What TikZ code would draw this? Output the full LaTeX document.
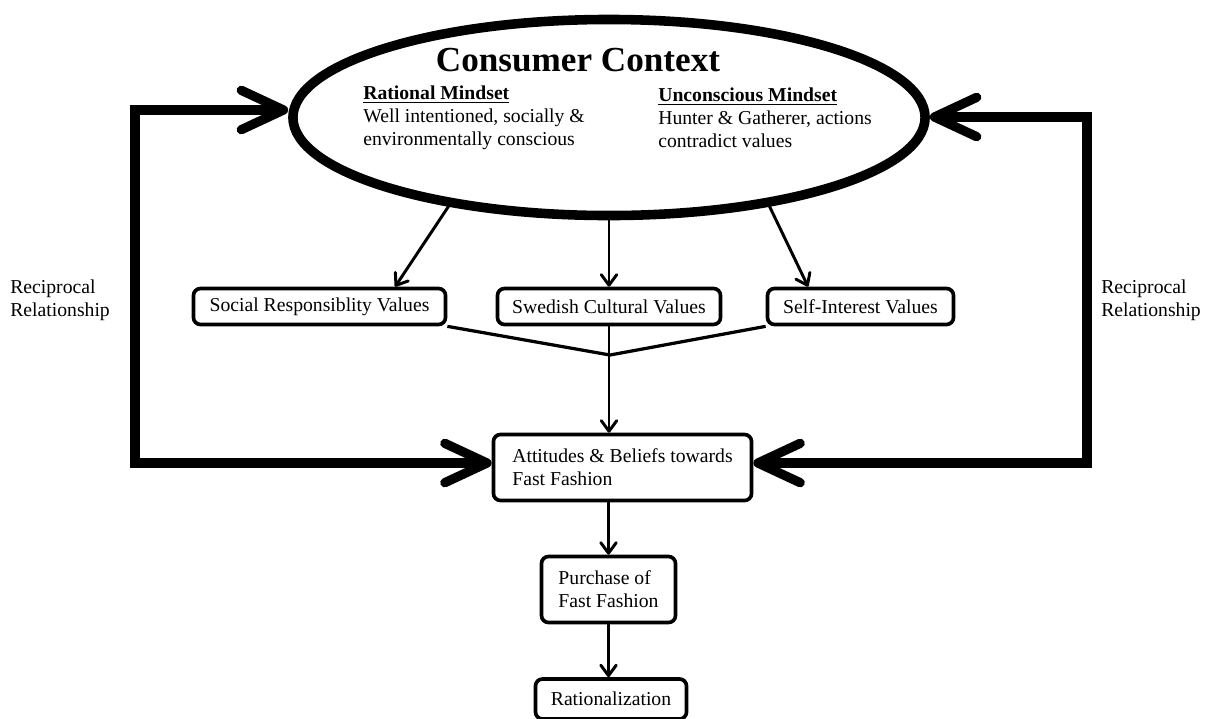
\documentclass[tikz,border=0pt]{standalone}
\usepackage{fontspec}
\setmainfont{Liberation Serif}
\usetikzlibrary{shapes.geometric,arrows.meta}

\begin{document}
\begin{tikzpicture}[x=0.025cm,y=-0.025cm,
	every node/.style={font=\fontsize{14}{16.4}\selectfont},
	valuebox/.style={draw, line width=2.6pt, rounded corners=5pt, align=left},
	smallarrow/.style={line width=2.1pt, -{Straight Barb[length=7.5pt,width=11pt,round]}},
	joinline/.style={line width=2.3pt},
	loopline/.style={line width=6.6pt, {Straight Barb[length=30pt,width=28pt,round]}-{Straight Barb[length=30pt,width=28pt,round]}}]
			\newcommand{\mytitlefont}[1]{
				\fontsize{25}{28}\selectfont\bfseries{#1}
			}%Frame of the picture
			\useasboundingbox (0,0) rectangle (1208,718);
			%The consumer context ellipse
			\node [draw, ellipse, line width=6.8pt, minimum width=15.8cm, minimum height=4.9cm] (ctx) at (609,117.5) {};
			\node [] (ttl) at (578,60) {\mytitlefont{Consumer Context}};
			\node [anchor=west, align=left, inner sep=0pt] (rational) at (363,118) {\underline{\textbf{Rational Mindset}}\\Well intentioned, socially \&\\environmentally conscious};
			\node [anchor=west, align=left, inner sep=0pt] (unconscious) at (658,118) {\underline{\textbf{Unconscious Mindset}}\\Hunter \& Gatherer, actions\\contradict values};
			%The three kinds of values
			\node [valuebox, minimum width=6.3cm, minimum height=0.9cm] (social) at (319.5,306.5) {Social Responsiblity Values};
			\node [valuebox, minimum width=5.575cm, minimum height=0.9cm] (swedish) at (609,306.5) {Swedish Cultural Values};
			\node [valuebox, minimum width=4.65cm, minimum height=0.9cm] (self) at (860.5,306.5) {Self-Interest Values};
			%Chain at the bottom
			\node [valuebox, minimum width=6.45cm, minimum height=1.65cm] (attitudes) at (622.5,467.5) {Attitudes \& Beliefs towards\\Fast Fashion};
			\node [valuebox, minimum width=3.35cm, minimum height=1.65cm] (purchase) at (608.5,589.5) {Purchase of\\Fast Fashion};
			\node [valuebox, minimum width=3.775cm, minimum height=1cm] (ration) at (611,699) {Rationalization};
			%Side labels
			\node [anchor=west, align=left, inner sep=0pt] (recleft) at (10,300) {Reciprocal\\Relationship};
			\node [anchor=west, align=left, inner sep=0pt] (recright) at (1101,300) {Reciprocal\\Relationship};
			%Arrows from the ellipse down to the values
			\draw [smallarrow] (ctx.209) -- ([xshift=1.89cm]social.north);
			\draw [smallarrow] (ctx.south) -- (swedish.north);
			\draw [smallarrow] (ctx.331) -- ([xshift=-1.31cm]self.north);
			%Values join into one arrow
			\coordinate (merge) at (610,355);
			\draw [joinline] (social.south east) -- (merge) -- (self.south west);
			\draw [smallarrow] (swedish.south) -- (swedish.south |- attitudes.north);
			\draw [smallarrow] (purchase.north |- attitudes.south) -- (purchase.north);
			\draw [smallarrow] (purchase.south) -- (purchase.south |- ration.north);
			%Reciprocal loops left and right
			\coordinate (lefttop) at (135,110);
			\coordinate (leftbot) at (135,463);
			\coordinate (righttop) at (1087,117);
			\coordinate (rightbot) at (1087,463);
			\draw [loopline] (ctx.west |- lefttop) -- (lefttop) -- (leftbot) -- (attitudes.west |- leftbot);
			\draw [loopline] (ctx.east |- righttop) -- (righttop) -- (rightbot) -- (attitudes.east |- rightbot);
			\end{tikzpicture}
\end{document}
